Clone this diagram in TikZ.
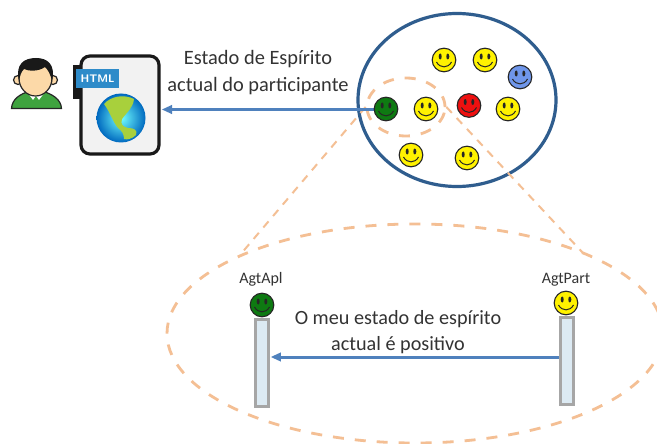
\documentclass[tikz,border=0pt]{standalone}
\usepackage{fontspec}
\setmainfont{Carlito}
\usetikzlibrary{arrows.meta,shapes.geometric}
\definecolor{ringblue}{HTML}{2F5D8E}
\definecolor{arrowblue}{HTML}{4F81BD}
\definecolor{peach}{HTML}{F4BF94}
\definecolor{smyellow}{HTML}{FFF200}
\definecolor{smgreen}{HTML}{0E7A12}
\definecolor{smred}{HTML}{EE1010}
\definecolor{smblue}{HTML}{6F96EA}
\definecolor{lifefill}{HTML}{DCEAF3}
\definecolor{lifeedge}{HTML}{A6A6A6}
\definecolor{shirt}{HTML}{3FA33F}
\definecolor{skin}{HTML}{FCD9A8}
\definecolor{tabblue}{HTML}{2E8BC9}
\definecolor{land}{HTML}{A8D03C}
\tikzset{
  x=1pt,y=-1pt,
  ringline/.style={draw=ringblue,line width=3.2pt},
  peachdash/.style={draw=peach,line width=2.8pt,dash pattern=on 11pt off 11pt},
  peachthin/.style={draw=peach,line width=2pt,dash pattern=on 8pt off 7pt},
  msgline/.style={arrowblue,line width=3pt},
  msgtip/.style={fill=arrowblue,draw=none,isosceles triangle,isosceles triangle apex angle=50,minimum height=10pt,inner sep=0pt},
  lifebar/.style={draw=lifeedge,line width=3pt,fill=lifefill},
  lbl/.style={inner sep=0pt,align=center,text=black!80},
  pics/smiley/.style={code={
    \path[fill=#1,draw=black!85,line width=1.1pt] (0,0) circle[radius=11.8];
    \path[fill=black!85] (-3.8,-3.5) ellipse[x radius=1.5,y radius=3];
    \path[fill=black!85] (3.8,-3.5) ellipse[x radius=1.5,y radius=3];
    \draw[black!85,line width=1pt] (-7.5,2) .. controls (-4,8.5) and (4,8.5) .. (7.5,2);
  }}
}
\begin{document}
\begin{tikzpicture}
\useasboundingbox (0,0) rectangle (657,444);
\path[fill=white] (0,0) rectangle (657,444);
% person
\path[fill=shirt,draw=black!85,line width=1.2pt] (11.5,108.5) .. controls (12,99) and (20,94) .. (30,91) -- (42,91) .. controls (52,94) and (61,99) .. (61.5,108.5) -- cycle;
\path[fill=white] (27,92) -- (33,100) -- (36,96) -- (39,100) -- (45,92) -- cycle;
\path[fill=skin,draw=black!85,line width=1.2pt] (18,80) circle[radius=4.5];
\path[fill=skin,draw=black!85,line width=1.2pt] (53,80) circle[radius=4.5];
\path[fill=skin,draw=black!85,line width=1.2pt] (35.5,78) ellipse[x radius=16.5,y radius=18];
\path[fill=black!90] (19,81) .. controls (15,64) and (24,58) .. (36,58) .. controls (47,58) and (56,64) .. (52,81) .. controls (50,73) and (48,70) .. (45,67) .. controls (38,72) and (28,71) .. (24,69) .. controls (21,72) and (20,76) .. (19,81) -- cycle;
% page
\node[fill=black!90,minimum width=14pt,minimum height=34pt,inner sep=0pt] (flap) at (80,82) {};
\node[draw=black!90,line width=3.2pt,fill=black!5,rounded corners=9pt,minimum width=78pt,minimum height=98pt,inner sep=0pt] (page) at (120,105) {};
\node[fill=tabblue,text=white,font=\sffamily\bfseries\fontsize{11}{12}\selectfont,minimum width=43pt,minimum height=19pt,inner sep=0pt] (html) at (97.5,78.5) {HTML};
\shade[inner color=cyan!55!white,outer color=blue!45!cyan!75!black] (121,118) circle[radius=24.5];
\path[fill=land] (104,104) .. controls (111,96) and (124,94) .. (134,99) .. controls (133,108) and (127,112) .. (122,119) .. controls (120,124) and (123,127) .. (128,128) .. controls (134,128) and (138,130) .. (136,135) .. controls (132,139) and (127,140) .. (124,139) .. controls (124,134) and (122,131) .. (118,128) .. controls (113,122) and (110,112) .. (104,104) -- cycle;
% rings
\node[ellipse,ringline,minimum width=198pt,minimum height=173pt,inner sep=0pt] (group) at (457,100) {};
\node[ellipse,peachdash,minimum width=78pt,minimum height=58pt,inner sep=0pt] (sel) at (406,107) {};
\node[ellipse,peachdash,minimum width=496pt,minimum height=219pt,inner sep=0pt] (zoom) at (415,333.5) {};
% zoom lines
\coordinate (zl1) at (240,255);
\coordinate (zr1) at (583,253);
\draw[peachthin] (sel.west) -- (zl1);
\draw[peachthin] (sel.east) -- (zr1);
% smileys
\coordinate (gs) at (386,109.5);
\coordinate (gt) at (gs -| page.east);
\draw[msgline] (gs) -- ([xshift=6pt]gt);
\node[msgtip,anchor=apex,rotate=0,shape border rotate=180] at ([xshift=1pt]gt) {};
\path (386,109) pic {smiley=smgreen};
\path (426,109) pic {smiley=smyellow};
\path (469,105.5) pic {smiley=smred};
\path (508,109) pic {smiley=smyellow};
\path (520,77) pic {smiley=smblue};
\path (444,60) pic {smiley=smyellow};
\path (485,60) pic {smiley=smyellow};
\path (411,155) pic {smiley=smyellow};
\path (467,158) pic {smiley=smyellow};
% sequence
\node[lifebar,minimum width=13pt,minimum height=87pt,inner sep=0pt] (apl) at (261.5,362.5) {};
\node[lifebar,minimum width=13pt,minimum height=87pt,inner sep=0pt] (part) at (566.5,360.5) {};
\path (262,305) pic {smiley=smgreen};
\path (566,303) pic {smiley=smyellow};
\coordinate (mt) at (apl.east |- 0,357);
\draw[msgline] (part.west |- 0,357) -- ([xshift=6pt]mt);
\node[msgtip,anchor=apex,shape border rotate=180] at ([xshift=1pt]mt) {};
% text
\node[lbl,font=\fontsize{16}{17}\selectfont] (alab) at (261,279) {AgtApl};
\node[lbl,font=\fontsize{16}{17}\selectfont] (plab) at (566,280) {AgtPart};
\node[lbl,font=\fontsize{20.2}{26}\selectfont] (msg) at (398,332) {O meu estado de espírito\\actual é positivo};
\node[lbl,font=\fontsize{20.4}{27}\selectfont] (state) at (258,73) {Estado de Espírito\\actual do participante};
\end{tikzpicture}
\end{document}
